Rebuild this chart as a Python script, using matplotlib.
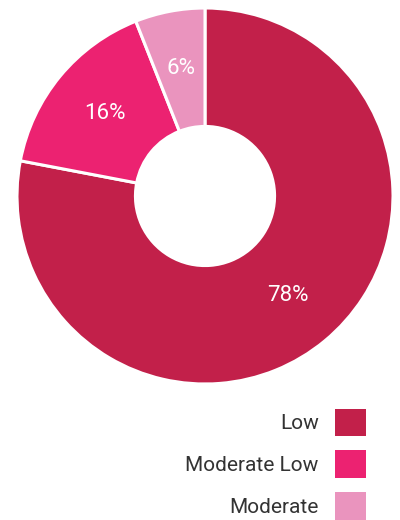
import matplotlib.pyplot as plt

plt.rcParams['font.family'] = ['Roboto', 'DejaVu Sans']

# 데이터
labels = ['Low', 'Moderate Low', 'Moderate']
values = [78, 16, 6]
colors = ['#c2204a', '#ec2271', '#ea94be']

fig = plt.figure(figsize=(4, 5.2), dpi=100)
ax = fig.add_axes([17 / 400, 136 / 520, 376 / 400, 376 / 520])

wedges, _, autotexts = ax.pie(
    values, colors=colors, startangle=90, counterclock=False,
    autopct='%d%%', pctdistance=0.69, radius=1,
    wedgeprops=dict(width=0.63, edgecolor='white', linewidth=2.2),
    textprops=dict(color='white', fontsize=16))
ax.set_xlim(-1, 1)
ax.set_ylim(-1, 1)
ax.set_aspect('equal')

leg = fig.legend(wedges, labels, loc='lower right', bbox_to_anchor=(377 / 400, -11 / 520),
                 frameon=False, markerfirst=False, fontsize=15,
                 handlelength=1.45, handleheight=1.65, handletextpad=0.8,
                 labelspacing=0.68, borderpad=0.05)
for t in leg.get_texts():
    t.set_color('#333333')
    t.set_ha('right')
for h in leg.legend_handles:
    h.set_edgecolor('none')
    h.set_linewidth(0)

fig.savefig('out.png', dpi=100)
